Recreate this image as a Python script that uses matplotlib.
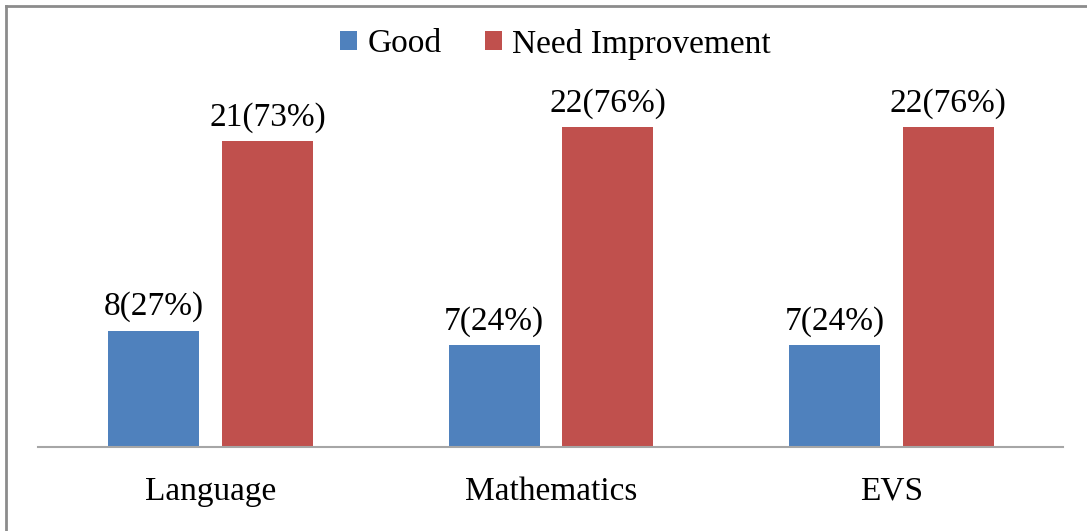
import numpy as np
import matplotlib.pyplot as plt
from matplotlib.lines import Line2D

categories = ['Language', 'Mathematics', 'EVS']
good = [8, 7, 7]
good_pct = [27, 24, 24]
need = [21, 22, 22]
need_pct = [73, 76, 76]

plt.rcParams['font.family'] = ['Liberation Serif', 'DejaVu Serif']

fig = plt.figure(figsize=(10.87, 5.31), dpi=100)
ax = fig.add_axes([0.035, 0.158, 0.943, 0.729])

x = np.arange(len(categories))
w = 0.267
off = 0.167
b1 = ax.bar(x - off, good, w, color='#4F81BD', label='Good')
b2 = ax.bar(x + off, need, w, color='#C0504D', label='Need Improvement')

for bars, vals, pcts in [(b1, good, good_pct), (b2, need, need_pct)]:
    for r, v, p in zip(bars, vals, pcts):
        ax.annotate(f'{v}({p}%)', (r.get_x() + r.get_width() / 2, r.get_height()),
                    xytext=(0, 6), textcoords='offset points',
                    ha='center', va='bottom', fontsize=24)

ax.set_xlim(-0.507, 2.504)
ax.set_ylim(0, 26.6)
ax.set_xticks(x)
ax.set_xticklabels(categories, fontsize=24)
ax.tick_params(axis='x', length=0, pad=21)
ax.set_yticks([])
for s in ['top', 'right', 'left']:
    ax.spines[s].set_visible(False)
ax.spines['bottom'].set_color('#A6A6A6')
ax.spines['bottom'].set_linewidth(1.5)

ax.legend(loc='center', bbox_to_anchor=(0.511, 1 - 44 / 531), bbox_transform=fig.transFigure,
          ncol=2, frameon=False, fontsize=24, handlelength=0.52, handleheight=0.52,
          handletextpad=0.3, columnspacing=1.3)

# partial frame: top and left edges only
fig.add_artist(Line2D([6 / 1087, 6 / 1087], [0, 1 - 6 / 531], transform=fig.transFigure,
                      color='#8C8C8C', linewidth=2))
fig.add_artist(Line2D([6 / 1087, 1], [1 - 6 / 531, 1 - 6 / 531], transform=fig.transFigure,
                      color='#8C8C8C', linewidth=2))

fig.savefig('out.png', dpi=100)
